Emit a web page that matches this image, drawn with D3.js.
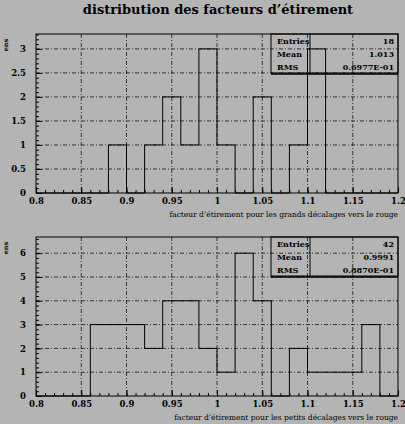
<!DOCTYPE html>
<html><head><meta charset="utf-8">
<script src="https://cdn.jsdelivr.net/npm/d3@7"></script>
<style>body{margin:0;background:#b4b4b4}svg{display:block}text{font-family:"DejaVu Serif","Liberation Serif",serif}</style>
</head><body>
<script>
const binEdges = d3.range(0, 21).map(i => 0.8 + i * 0.02);
const countsGrands = [0,0,0,0,1,0,1,2,1,3,1,0,2,0,1,3,0,0,0,0];
const countsPetits = [0,0,0,3,3,3,2,4,4,2,1,6,4,0,2,1,1,1,3,0];
const xTicks = [0.8,0.85,0.9,0.95,1,1.05,1.1,1.15,1.2];
const statsGrands = [["Entries","18"],["Mean","1.013"],["RMS","0.6977E-01"]];
const statsPetits = [["Entries","42"],["Mean","0.9991"],["RMS","0.8870E-01"]];

const W = 405, H = 424;
const svg = d3.select("body").append("svg").attr("width", W).attr("height", H);
svg.append("text").attr("x", 218).attr("y", 14).attr("text-anchor", "middle")
  .attr("font-size", 13).attr("font-weight", "bold").text("distribution des facteurs d’étirement");

function panel(top, bottom, ymax, yTicks, counts, stats, xtitle) {
  const x = d3.scaleLinear().domain([0.8, 1.2]).range([36, 398]);
  const y = d3.scaleLinear().domain([0, ymax]).range([bottom, top]);
  const g = svg.append("g");
  // grid
  g.selectAll(".gx").data(xTicks.slice(1, -1)).join("line")
    .attr("x1", d => x(d)).attr("x2", d => x(d)).attr("y1", top).attr("y2", bottom)
    .attr("stroke", "#000").attr("stroke-width", 0.7).attr("stroke-dasharray", "4,2,1,2");
  g.selectAll(".gy").data(yTicks.filter(d => d > 0)).join("line")
    .attr("x1", x(0.8)).attr("x2", x(1.2)).attr("y1", d => y(d)).attr("y2", d => y(d))
    .attr("stroke", "#000").attr("stroke-width", 0.7).attr("stroke-dasharray", "4,2,1,2");
  // histogram step
  let pts = [[x(0.8), y(0)]];
  counts.forEach((c, i) => { pts.push([x(binEdges[i]), y(c)]); pts.push([x(binEdges[i + 1]), y(c)]); });
  pts.push([x(1.2), y(0)]);
  g.append("path").attr("d", d3.line()(pts)).attr("fill", "none").attr("stroke", "#000").attr("stroke-width", 1);
  // frame
  g.append("rect").attr("x", x(0.8)).attr("y", top).attr("width", x(1.2) - x(0.8)).attr("height", bottom - top)
    .attr("fill", "none").attr("stroke", "#000").attr("stroke-width", 1);
  // axes
  const ax = g.append("g").attr("transform", `translate(0,${bottom})`)
    .call(d3.axisBottom(x).tickValues(xTicks).tickSize(-6).tickPadding(5).tickFormat(d3.format("")));
  ax.append("g").call(d3.axisBottom(x).tickValues(d3.range(0.8, 1.2001, 0.01)).tickSize(-3).tickFormat(""));
  const ay = g.append("g").attr("transform", `translate(${x(0.8)},0)`)
    .call(d3.axisLeft(y).tickValues(yTicks).tickSize(-6).tickPadding(10).tickFormat(d3.format("")));
  const minor = d3.range(0, ymax, (yTicks[1] - yTicks[0]) / 5);
  ay.append("g").call(d3.axisLeft(y).tickValues(minor).tickSize(-3).tickFormat(""));
  g.selectAll(".domain").remove();
  g.selectAll(".tick line").attr("stroke", "#000");
  g.selectAll(".tick text").attr("font-size", 8.5).attr("font-weight", "bold").attr("fill", "#000")
    .attr("font-family", "DejaVu Serif, serif");
  // x title
  g.append("text").attr("x", 398).attr("y", bottom + 24).attr("text-anchor", "end")
    .attr("font-size", 7.5).text(xtitle);
  g.append("text").attr("transform", `translate(8,${top + 11}) rotate(-90)`).attr("text-anchor", "middle")
    .attr("font-size", 6.5).attr("font-weight", "bold").text("ens");
  // stats box
  const bx = 271, bw = 398 - 271, rh = 13;
  g.append("rect").attr("x", bx).attr("y", top).attr("width", bw).attr("height", rh * 3)
    .attr("fill", "none").attr("stroke", "#000");
  g.append("line").attr("x1", bx).attr("x2", 398).attr("y1", top + rh * 3 + 1).attr("y2", top + rh * 3 + 1)
    .attr("stroke", "#000").attr("stroke-width", 1.5);
  g.append("line").attr("x1", 310).attr("x2", 310).attr("y1", top).attr("y2", top + rh * 3).attr("stroke", "#000");
  stats.forEach((s, i) => {
    g.append("text").attr("x", bx + 6).attr("y", top + rh * i + 10).attr("font-size", 8).attr("font-weight", "bold").text(s[0]);
    g.append("text").attr("x", 394).attr("y", top + rh * i + 10).attr("text-anchor", "end").attr("font-size", 8).attr("font-weight", "bold").text(s[1]);
  });
}

panel(34, 193, 3.31, [0,0.5,1,1.5,2,2.5,3], countsGrands, statsGrands,
  "facteur d’étirement pour les grands décalages vers le rouge");
panel(237, 396, 6.68, [0,1,2,3,4,5,6], countsPetits, statsPetits,
  "facteur d’étirement pour les petits décalages vers le rouge");
</script>
</body></html>
